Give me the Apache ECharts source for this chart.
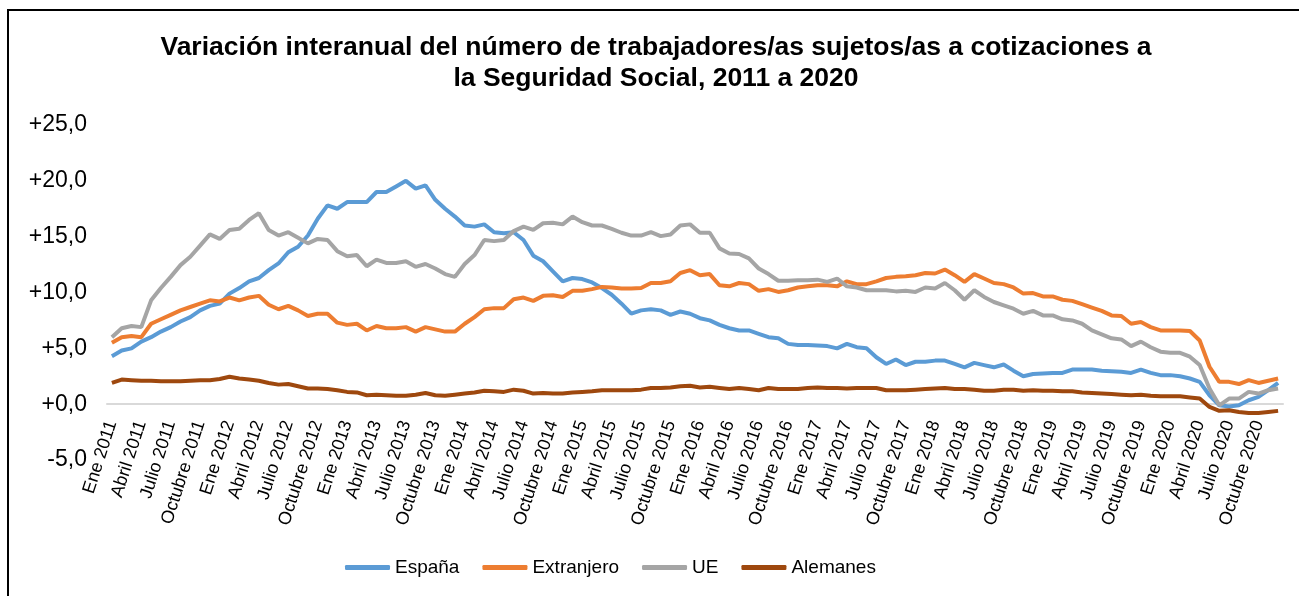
<!DOCTYPE html>
<html>
<head>
<meta charset="utf-8">
<script src="https://cdn.jsdelivr.net/npm/echarts@6/dist/echarts.min.js"></script>
<style>
  html, body { margin: 0; padding: 0; background: #fff; overflow: hidden; }
  #frame { position: absolute; left: 7px; top: 9px; width: 1400px; height: 700px; border: 2px solid #000; }
  #chart { position: absolute; left: 0; top: 0; width: 1299px; height: 596px; }
</style>
</head>
<body>
<div id="frame"></div>
<div id="chart"></div>
<script>
// meses (solo se muestra uno de cada tres)
const months = ['Ene', 'Feb', 'Mar', 'Abril', 'Mayo', 'Junio', 'Julio', 'Agosto', 'Sept', 'Octubre', 'Nov', 'Dic'];
const years = [2011, 2012, 2013, 2014, 2015, 2016, 2017, 2018, 2019, 2020];

// variación interanual (%), ene 2011 - dic 2020
const espana = [
  4.3, 4.8, 5.0, 5.6, 6.0, 6.5, 6.9, 7.4, 7.8, 8.4, 8.8, 9.0,
  9.9, 10.4, 11.0, 11.3, 12.0, 12.6, 13.6, 14.1, 15.1, 16.6, 17.8, 17.5,
  18.1, 18.1, 18.1, 19.0, 19.0, 19.5, 20.0, 19.3, 19.6, 18.3, 17.5, 16.8,
  16.0, 15.9, 16.1, 15.4, 15.3, 15.4, 14.7, 13.3, 12.8, 11.9, 11.0, 11.3,
  11.2, 10.9, 10.4, 9.8, 9.0, 8.1, 8.4, 8.5, 8.4, 8.0, 8.3, 8.1,
  7.7, 7.5, 7.1, 6.8, 6.6, 6.6, 6.3, 6.0, 5.9, 5.4, 5.3, 5.3,
  5.25, 5.2, 5.0, 5.4, 5.1, 5.0, 4.2, 3.6, 4.0, 3.5, 3.8, 3.8,
  3.9, 3.9, 3.6, 3.3, 3.7, 3.5, 3.3, 3.55, 3.0, 2.5, 2.7, 2.75,
  2.8, 2.8, 3.1, 3.1, 3.1, 3.0, 2.95, 2.9, 2.8, 3.1, 2.8, 2.6,
  2.6, 2.5, 2.3, 2.0, 0.8, -0.1, -0.2, -0.1, 0.35, 0.65, 1.25, 1.9
];
const extranjero = [
  5.5, 6.0, 6.1, 6.0, 7.2, 7.6, 8.0, 8.4, 8.7, 9.0, 9.3, 9.2,
  9.55, 9.3, 9.55, 9.7, 8.9, 8.5, 8.8, 8.4, 7.9, 8.1, 8.1, 7.3,
  7.1, 7.2, 6.6, 7.0, 6.8, 6.8, 6.9, 6.5, 6.9, 6.7, 6.5, 6.5,
  7.2, 7.8, 8.5, 8.6, 8.6, 9.4, 9.55, 9.25, 9.7, 9.75, 9.6, 10.15,
  10.15, 10.3, 10.5, 10.45, 10.35, 10.35, 10.4, 10.85, 10.85, 11.0, 11.75, 12.0,
  11.55, 11.65, 10.65, 10.55, 10.85, 10.75, 10.15, 10.3, 10.05, 10.2, 10.45, 10.55,
  10.65, 10.65, 10.55, 11.0, 10.75, 10.75, 11.0, 11.3, 11.4, 11.45, 11.55, 11.75,
  11.7, 12.05, 11.55, 10.95, 11.65, 11.25, 10.85, 10.75, 10.45, 9.9, 9.95, 9.65,
  9.65, 9.35, 9.25, 8.95, 8.65, 8.35, 7.95, 7.9, 7.2, 7.35, 6.9, 6.6,
  6.6, 6.6, 6.55, 5.7, 3.35, 2.0, 2.0, 1.8, 2.15, 1.9, 2.1, 2.3
];
const ue = [
  6.0, 6.8, 7.0, 6.9, 9.3, 10.4, 11.4, 12.45, 13.2, 14.2, 15.2, 14.8,
  15.6, 15.7, 16.5, 17.1, 15.6, 15.1, 15.4, 14.9, 14.4, 14.8, 14.7, 13.7,
  13.25, 13.35, 12.35, 12.95, 12.65, 12.65, 12.8, 12.3, 12.55, 12.15, 11.65, 11.4,
  12.55, 13.35, 14.7, 14.6, 14.7, 15.5, 15.9, 15.6, 16.2, 16.25, 16.1, 16.8,
  16.3, 16.0, 16.0, 15.7, 15.35, 15.1, 15.1, 15.4, 15.05, 15.2, 16.0, 16.1,
  15.35, 15.35, 13.95, 13.5, 13.45, 13.05, 12.15, 11.65, 11.05, 11.05, 11.1, 11.1,
  11.15, 10.95, 11.25, 10.55, 10.45, 10.2, 10.2, 10.2, 10.1, 10.15, 10.05, 10.45,
  10.35, 10.85, 10.2, 9.35, 10.2, 9.6, 9.15, 8.85, 8.55, 8.1, 8.35, 7.95,
  7.95, 7.6, 7.5, 7.2, 6.6, 6.25, 5.9, 5.8, 5.2, 5.6, 5.1, 4.7,
  4.6, 4.6, 4.25, 3.5, 1.4, -0.1, 0.5, 0.5, 1.1, 0.95, 1.25, 1.4
];
const alemanes = [
  1.9, 2.2, 2.15, 2.1, 2.1, 2.05, 2.05, 2.05, 2.1, 2.15, 2.15, 2.25,
  2.45, 2.3, 2.2, 2.1, 1.9, 1.75, 1.8, 1.6, 1.4, 1.4, 1.35, 1.25,
  1.1, 1.05, 0.8, 0.85, 0.8, 0.75, 0.75, 0.85, 1.0, 0.8, 0.75, 0.85,
  0.95, 1.05, 1.2, 1.15, 1.1, 1.3, 1.2, 0.95, 1.0, 0.95, 0.95, 1.05,
  1.1, 1.15, 1.25, 1.25, 1.25, 1.25, 1.3, 1.45, 1.45, 1.5, 1.6, 1.65,
  1.5, 1.55, 1.45, 1.35, 1.45, 1.35, 1.25, 1.45, 1.35, 1.35, 1.35, 1.45,
  1.5, 1.45, 1.45, 1.4, 1.45, 1.45, 1.45, 1.25, 1.25, 1.25, 1.3, 1.35,
  1.4, 1.45, 1.35, 1.35, 1.3, 1.2, 1.2, 1.3, 1.3, 1.2, 1.25, 1.2,
  1.2, 1.15, 1.15, 1.05, 1.0, 0.95, 0.9, 0.85, 0.8, 0.85, 0.75, 0.7,
  0.7, 0.7, 0.6, 0.5, -0.25, -0.6, -0.55, -0.7, -0.8, -0.8, -0.7, -0.6
];

const categories = [];
years.forEach(y => months.forEach(m => categories.push(m + ' ' + y)));

const font = "'Liberation Sans', Arial, sans-serif";
const chart = echarts.init(document.getElementById('chart'));

const yMin = -5, yMax = 25;
const gridTop = 125, gridBottom = 136;
const plotH = 596 - gridTop - gridBottom;

const line = (name, data, color) => ({
  name: name,
  type: 'line',
  data: data,
  symbol: 'none',
  lineStyle: { width: 4, color: color },
  itemStyle: { color: color },
  animation: false
});

chart.setOption({
  backgroundColor: 'transparent',
  graphic: [{
    type: 'text',
    x: 656,
    y: 32,
    style: {
      text: 'Variación interanual del número de trabajadores/as sujetos/as a cotizaciones a\nla Seguridad Social, 2011 a 2020',
      align: 'center',
      verticalAlign: 'top',
      font: 'bold 26.5px ' + font,
      lineHeight: 31,
      fill: '#000'
    }
  }],
  legend: {
    left: 340,
    top: 553,
    icon: 'roundRect',
    itemWidth: 45,
    itemHeight: 5,
    itemGap: 23,
    textStyle: { fontFamily: font, fontSize: 19, color: '#000' },
    data: ['España', 'Extranjero', 'UE', 'Alemanes']
  },
  grid: { left: 107, right: 16, top: gridTop, bottom: gridBottom },
  xAxis: {
    type: 'category',
    data: categories,
    boundaryGap: true,
    // eje situado en el cero
    offset: -plotH * (0 - yMin) / (yMax - yMin),
    axisLine: { onZero: false, lineStyle: { color: '#d9d9d9', width: 2 } },
    axisTick: { show: false },
    axisLabel: {
      interval: 2,
      rotate: 72,
      margin: 17,
      fontFamily: font,
      fontSize: 18,
      color: '#000'
    },
    splitLine: { show: false }
  },
  yAxis: {
    type: 'value',
    min: yMin,
    max: yMax,
    interval: 5,
    axisLine: { show: false },
    axisTick: { show: false },
    splitLine: { show: false },
    axisLabel: {
      margin: 20,
      fontFamily: font,
      fontSize: 23,
      color: '#000',
      formatter: v => (v < 0 ? '-' : '+') + Math.abs(v).toFixed(1).replace('.', ',')
    }
  },
  series: [
    line('España', espana, '#5B9BD5'),
    line('Extranjero', extranjero, '#ED7D31'),
    line('UE', ue, '#A5A5A5'),
    line('Alemanes', alemanes, '#9E480E')
  ]
});
</script>
</body>
</html>
